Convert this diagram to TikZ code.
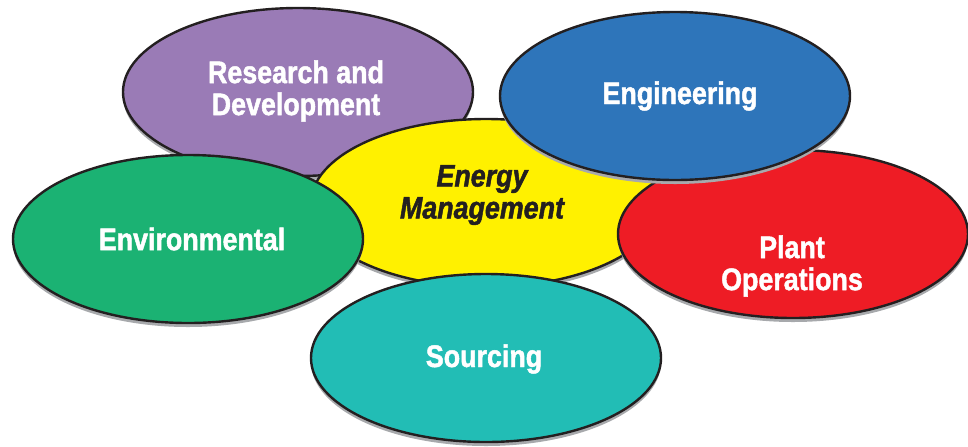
\documentclass[tikz,border=0pt]{standalone}
\usepackage{fontspec}
\setmainfont{Liberation Sans}[FakeStretch=0.86, BoldFeatures={FakeBold=1.5}, BoldItalicFeatures={FakeBold=1.5}]
\usetikzlibrary{shapes.geometric,shadows}
\definecolor{cpurple}{HTML}{9A7BB6}
\definecolor{cblue}{HTML}{2E75BA}
\definecolor{cred}{HTML}{EE1C25}
\definecolor{cgreen}{HTML}{1BB273}
\definecolor{cteal}{HTML}{22BDB5}
\definecolor{cyellow}{HTML}{FFF100}
\definecolor{outl}{HTML}{231F20}
\definecolor{shade}{HTML}{A7A9AC}
\tikzset{
  blob/.style={ellipse, draw=outl, line width=1.2pt, fill=#1,
    minimum width=175pt, minimum height=84pt, inner sep=0pt,
    drop shadow={shadow xshift=0pt, shadow yshift=-2pt, opacity=1, fill=shade}},
  wlabel/.style={text=white, font=\fontsize{15.6}{16}\selectfont\bfseries, align=center, inner sep=0pt},
  blabel/.style={text=outl, font=\fontsize{15.6}{16}\selectfont\bfseries\itshape, align=center, inner sep=0pt}
}
\begin{document}
\begin{tikzpicture}[x=0.5pt,y=-0.5pt]
\useasboundingbox (0,0) rectangle (968,446);
\node[blob=cpurple] (rd) at (298,92) {};
\node[blob=cyellow] (em) at (486,203) {};
\node[blob=cgreen] (env) at (188,239) {};
\node[blob=cred] (po) at (793,234) {};
\node[blob=cblue] (eng) at (675,96) {};
\node[blob=cteal] (src) at (486,358) {};
\node[wlabel] (rdt) at (296,91) {Research and\\Development};
\node[wlabel] (engt) at (680,96) {Engineering};
\node[blabel] (emt) at (482,195) {Energy\\Management};
\node[wlabel] (envt) at (192,239) {Environmental};
\node[wlabel] (pot) at (792,266) {Plant\\Operations};
\node[wlabel] (srct) at (484,359) {Sourcing};
\end{tikzpicture}
\end{document}
